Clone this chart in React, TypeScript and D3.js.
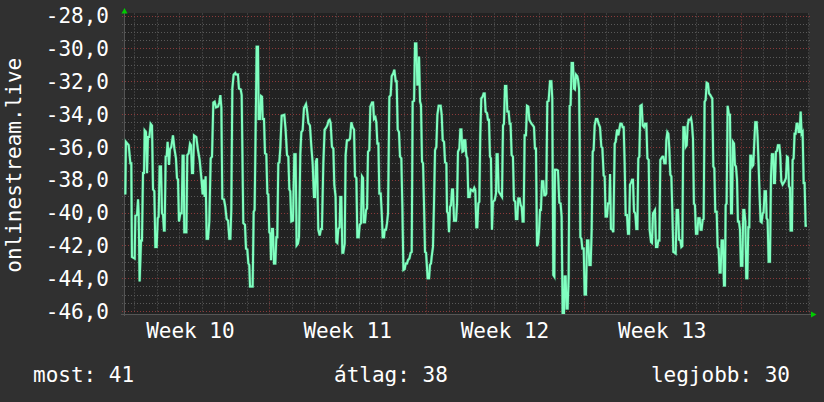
import React from "react";
import * as d3 from "d3";

const yTicks = [-28, -30, -32, -34, -36, -38, -40, -42, -44, -46];
const weekLabels = ["Week 10", "Week 11", "Week 12", "Week 13"];
const weekStarts = [154.9, 322.9, 490.9, 658.9]; // hours: week boundary after each label's week
const firstDayLine = 10.9;
const totalHours = 731.6;
const yAxisTitle = "onlinestream.live";
const legend = ["most: 41", "átlag: 38", "legjobb: 30"];

// [hour since start, value]
const samples: [number, number][] = [
  [1.4,-38.9],[2.1,-35.7],[5.0,-35.9],[6.8,-37.0],[7.8,-37.0],[8.5,-42.7],[11.4,-42.8],[12.1,-40.2],[13.9,-40.15],[15.0,-39.2],
  [15.7,-40.15],[16.7,-44.2],[18.2,-41.7],[19.2,-41.7],[20.3,-37.6],[21.4,-37.6],[22.1,-35.0],[23.5,-35.1],[24.6,-37.6],[25.6,-35.4],
  [27.1,-35.4],[28.5,-34.6],[29.9,-34.7],[31.0,-38.6],[32.4,-38.7],[33.5,-42.1],[34.9,-42.1],[36.0,-40.35],[37.0,-40.25],[38.1,-37.2],
  [39.5,-37.2],[40.6,-40.05],[41.7,-40.15],[42.7,-41.1],[43.4,-41.1],[44.5,-36.6],[45.6,-36.55],[46.6,-35.7],[48.1,-37.1],[49.1,-36.15],
  [50.5,-36.0],[52.3,-35.3],[53.8,-36.1],[55.5,-36.7],[56.6,-37.9],[57.7,-38.0],[58.7,-40.55],[60.2,-40.05],[61.6,-40.05],[62.6,-36.55],
  [63.7,-36.55],[64.4,-41.2],[66.6,-41.2],[67.6,-36.5],[69.1,-36.4],[70.5,-35.8],[71.6,-35.9],[72.6,-37.6],[73.7,-37.6],[74.8,-35.3],
  [77.2,-35.4],[79.0,-36.2],[80.8,-36.8],[82.6,-37.9],[84.0,-38.9],[85.1,-38.0],[86.2,-39.05],[87.2,-37.8],[88.3,-41.6],[89.7,-41.6],
  [91.1,-40.55],[92.6,-36.7],[94.0,-36.6],[95.4,-33.3],[96.8,-33.25],[98.3,-33.6],[100.4,-33.55],[101.8,-33.3],[102.9,-32.85],[104.0,-33.6],
  [105.0,-39.15],[106.8,-39.2],[108.2,-39.65],[109.6,-40.4],[111.1,-40.5],[112.5,-41.6],[113.6,-41.6],[114.6,-39.85],[115.7,-32.45],[117.1,-31.6],
  [118.9,-31.5],
  [119.6,-31.6],[121.7,-31.6],[122.8,-32.45],[124.6,-32.5],[125.7,-32.85],[127.4,-40.65],[129.2,-40.75],[130.3,-42.2],[131.7,-42.25],
  [132.8,-43.1],[133.8,-43.2],[134.6,-44.5],[137.4,-44.5],[138.5,-39.95],[139.5,-39.85],[141.7,-29.9],[143.1,-29.9],[143.8,-34.3],[145.2,-34.3],
  [146.3,-32.9],[147.4,-32.95],[148.1,-34.3],[149.5,-34.3],[150.6,-36.4],[152.0,-36.45],[153.1,-38.85],[154.1,-38.9],[155.2,-41.2],[156.3,-41.3],
  [157.0,-42.9],[158.0,-41.0],[159.1,-41.0],[160.2,-43.1],[161.6,-43.1],[162.7,-41.5],[163.7,-41.5],[164.8,-37.0],[165.9,-36.95],[166.9,-36.1],
  [168.4,-34.1],[171.2,-34.05],[172.6,-34.95],[174.1,-36.5],[175.5,-36.6],[176.6,-38.6],[177.6,-38.7],[178.7,-40.55],[180.5,-40.5],[181.9,-36.45],
  [183.3,-36.45],[184.4,-42.0],[185.8,-41.9],[186.9,-41.5],[188.3,-36.45],[189.4,-35.1],[190.8,-35.0],[192.2,-33.65],[194.4,-33.4],[195.4,-33.75],
  [196.9,-34.55],[198.6,-34.7],[200.1,-36.0],[201.5,-37.0],[202.9,-39.05],[204.0,-39.05],[205.0,-36.9],[206.1,-36.7],[207.5,-41.05],[209.0,-41.4],
  [210.4,-41.0],[211.4,-41.0],[212.9,-37.0],[214.3,-34.95],[215.7,-34.85],[217.1,-34.7],[218.6,-34.4],[219.6,-34.35],[220.7,-34.55],[222.1,-36.0],
  [223.6,-36.1],[224.6,-38.3],[226.0,-39.05],[226.8,-41.8],[227.8,-41.85],[228.9,-41.0],[230.3,-40.9],[231.0,-39.05],[232.1,-39.05],[233.2,-42.45],
  [234.2,-42.45],[235.7,-41.9],[236.7,-36.5],[238.1,-35.6],[239.9,-35.6],
  [241.4,-35.5],[242.8,-34.5],[244.2,-34.8],[245.7,-34.95],[246.7,-37.8],[248.2,-37.9],[249.2,-41.5],[250.7,-41.5],[251.7,-40.75],[253.1,-40.65],
  [254.2,-37.8],[255.3,-37.9],[256.0,-40.6],[257.4,-40.6],[258.5,-39.85],[259.6,-39.75],[260.6,-36.3],[262.0,-36.2],[263.1,-33.55],[264.9,-33.3],
  [266.0,-33.3],[267.0,-34.3],[268.5,-34.2],[269.5,-34.5],[270.6,-35.8],[271.7,-35.8],[272.7,-38.85],[274.2,-38.85],[275.2,-39.95],[276.3,-41.5],
  [277.7,-41.5],[278.4,-41.05],[279.8,-41.05],[280.9,-40.65],[282.0,-40.05],[283.4,-32.95],[284.8,-32.85],[285.9,-31.7],[287.7,-31.5],[288.7,-31.3],
  [290.2,-32.0],[291.2,-32.0],[292.3,-34.95],[293.7,-35.1],[294.8,-36.6],[296.2,-36.7],[297.3,-39.65],[298.4,-43.5],[299.8,-43.45],[300.9,-43.1],
  [302.3,-43.1],[303.3,-42.9],[304.8,-42.8],[306.2,-42.45],[307.3,-42.4],[308.3,-33.25],[309.8,-33.2],[310.8,-29.7],[312.2,-29.7],[313.3,-32.2],
  [314.4,-32.2],[315.1,-30.5],[316.2,-33.25],[317.2,-33.45],[318.3,-36.9],[319.4,-37.0],[320.4,-39.45],[321.5,-42.4],[322.6,-42.45],[323.3,-43.1],
  [324.3,-44.0],[325.8,-44.0],[326.8,-43.2],[327.9,-43.1],[328.6,-42.7],[330.0,-42.1],[331.1,-39.45],[332.2,-36.2],[333.6,-36.0],[334.7,-34.05],
  [336.1,-33.5],[338.2,-33.5],[339.3,-34.05],[340.4,-35.6],[341.8,-35.7],[342.9,-36.95],[344.3,-37.0],[345.0,-39.95],[346.1,-40.05],[347.1,-41.2],
  [348.2,-39.65],[349.3,-39.55],[350.3,-38.6],[351.4,-38.6],[352.5,-40.5],[354.6,-40.5],[355.7,-39.45],[356.7,-36.3],[358.2,-36.1],[359.2,-34.95],
  [360.3,-34.95],[361.4,-36.3],[362.8,-36.25],
  [363.1,-35.6],[364.5,-35.6],[365.6,-36.55],[366.7,-36.7],[367.7,-39.05],[369.2,-39.05],[370.2,-38.6],[371.6,-38.65],[372.7,-38.7],[374.1,-38.5],
  [375.2,-38.65],[376.3,-40.9],[377.3,-40.9],[378.4,-39.45],[379.5,-39.35],[380.5,-35.3],[381.6,-33.05],[383.0,-32.95],[384.1,-32.75],[385.2,-32.75],
  [386.2,-33.85],[387.7,-33.95],[388.7,-34.35],[389.8,-34.35],[390.9,-36.6],[391.9,-36.7],[393.0,-41.05],[394.1,-39.35],[395.9,-39.25],[397.3,-38.85],
  [398.0,-36.45],[399.1,-36.45],[400.1,-38.7],[401.5,-38.85],[402.6,-38.95],[403.7,-39.05],[404.8,-34.7],[405.8,-34.6],[406.9,-32.3],[408.3,-32.3],
  [409.4,-33.85],[410.8,-33.85],[411.9,-34.6],[412.9,-34.6],[414.0,-36.5],[415.4,-36.6],[416.5,-39.25],[417.9,-39.35],[418.6,-40.4],[420.1,-40.4],
  [421.1,-39.15],[422.6,-39.15],[423.6,-39.55],[424.7,-39.65],[425.8,-40.55],[426.8,-40.55],[427.9,-35.3],[429.3,-35.3],[430.4,-33.5],[431.8,-33.55],
  [432.9,-34.35],[434.3,-34.5],[435.4,-34.6],[436.8,-34.7],[437.9,-34.8],[438.9,-36.1],[440.0,-36.1],[441.1,-42.05],[442.1,-41.9],[443.2,-41.2],
  [444.3,-39.85],[445.3,-39.85],[446.4,-38.1],[447.8,-38.1],[448.9,-38.95],[450.0,-38.95],[451.0,-38.85],[452.1,-33.25],[453.5,-33.2],[455.0,-32.0],
  [456.4,-32.0],[457.4,-33.05],[458.5,-43.8],[459.6,-43.9],[460.3,-37.4],[462.1,-37.4],[463.5,-37.45],[464.9,-39.4],[466.3,-39.45],[467.4,-40.25],
  [468.5,-46.25],[469.9,-46.25],[470.6,-43.9],[471.7,-43.9],[472.7,-45.85],[473.8,-45.85],[474.9,-43.9],[476.0,-33.5],[477.0,-33.45],[478.1,-30.9],
  [479.5,-30.9],[480.6,-32.45],[481.6,-32.5],[482.7,-31.6],[484.1,-31.7],
  [484.9,-31.9],[486.0,-32.45],[486.7,-35.6],[487.4,-41.5],[488.5,-41.6],[489.5,-42.2],[491.0,-42.2],[492.0,-45.0],[493.4,-45.0],[494.5,-41.7],
  [495.9,-41.7],[497.0,-43.2],[498.4,-43.2],[499.5,-41.05],[500.6,-36.3],[501.6,-36.2],[502.7,-34.7],[504.1,-34.3],[505.5,-34.3],[507.0,-34.6],
  [508.4,-34.8],[509.8,-36.0],[510.9,-36.05],[512.3,-37.75],[513.4,-37.8],[514.4,-40.25],[515.9,-40.25],[516.9,-39.45],[518.4,-39.45],[519.1,-37.65],
  [520.1,-41.0],[521.6,-41.05],[522.6,-41.2],[524.1,-35.8],[525.1,-35.7],[526.6,-34.95],[528.0,-35.3],[529.0,-34.95],[530.1,-34.6],[531.5,-34.6],
  [532.6,-34.8],[533.7,-34.8],[534.7,-37.0],[535.8,-40.15],[537.2,-40.15],[538.3,-41.3],[539.4,-41.3],[540.4,-38.3],[541.5,-38.2],[542.6,-38.0],
  [543.6,-38.0],[544.7,-39.95],[546.1,-40.05],[547.2,-41.0],[548.3,-41.0],[549.3,-36.7],[550.4,-36.6],[551.5,-33.5],[552.9,-33.45],[554.0,-34.7],
  [555.4,-34.8],[556.5,-34.6],[557.9,-34.6],[559.0,-36.7],[560.4,-36.8],[561.4,-41.05],[562.9,-41.8],[563.9,-41.85],[565.0,-40.05],[566.1,-39.95],
  [567.1,-39.85],[568.2,-42.1],[569.6,-42.1],[570.7,-41.7],[571.8,-41.7],[572.8,-36.8],[573.9,-36.7],[575.0,-36.6],[576.0,-36.6],[577.1,-37.0],
  [578.5,-37.0],[579.2,-35.6],[580.3,-35.1],[581.4,-35.2],[582.4,-36.1],[583.5,-37.7],[584.6,-37.8],[585.6,-39.85],[586.7,-42.4],[588.1,-42.45],
  [589.2,-42.5],[590.3,-39.85],[591.7,-39.85],[592.8,-41.65],[594.2,-41.7],[595.3,-42.1],[596.3,-42.05],[597.4,-34.8],[598.8,-34.8],[599.9,-36.0],
  [601.0,-35.9],[602.0,-34.7],[603.1,-34.35],[604.5,-34.35],[605.6,-34.25],
  [606.6,-34.6],[607.7,-35.5],[608.7,-39.45],[609.8,-39.55],[610.9,-41.3],[612.3,-41.3],[613.4,-40.35],[614.8,-40.35],[615.9,-41.05],[616.9,-41.05],
  [618.0,-40.45],[619.1,-40.4],[620.1,-33.25],[621.2,-33.15],[622.3,-32.1],[623.7,-32.15],[624.8,-32.75],[626.2,-32.85],[627.2,-32.95],[628.3,-33.05],
  [629.4,-37.2],[630.5,-37.3],[631.5,-39.95],[633.0,-39.95],[634.0,-42.1],[635.1,-42.2],[636.1,-43.65],[637.2,-43.65],[638.3,-41.7],[639.7,-41.7],
  [640.8,-44.45],[641.8,-44.45],[642.6,-39.55],[643.6,-39.45],[644.7,-33.5],[646.1,-34.05],[647.2,-34.05],[648.3,-40.05],[649.3,-40.05],[650.4,-35.7],
  [651.5,-35.8],[652.5,-37.1],[653.6,-37.2],[654.7,-38.0],[655.7,-40.55],[656.8,-40.55],[657.9,-41.05],[658.9,-43.25],[660.4,-43.25],[661.4,-39.85],
  [662.5,-39.85],[663.6,-40.55],[664.6,-44.0],[665.7,-44.0],[666.8,-40.9],[667.8,-40.9],[668.9,-36.55],[670.0,-36.55],[671.0,-37.2],[672.1,-37.1],
  [673.2,-35.7],[674.2,-34.5],[675.7,-34.5],[676.7,-35.4],[677.8,-37.1],[678.9,-39.05],[679.9,-40.55],[681.0,-40.6],[682.1,-40.05],[683.1,-40.0],
  [684.2,-38.7],[685.6,-38.7],[686.3,-40.35],[687.4,-40.45],[688.5,-43.0],[689.9,-43.0],[691.0,-37.8],[692.0,-36.45],[693.5,-36.45],[694.2,-38.2],
  [695.2,-38.2],[696.3,-36.3],[697.4,-36.25],[698.4,-35.9],[699.9,-35.9],[700.9,-36.5],[702.0,-38.1],[703.4,-38.3],[704.5,-38.2],[705.6,-38.1],
  [707.0,-37.9],[708.1,-36.6],[709.1,-36.65],[710.2,-38.4],[711.3,-38.5],[712.0,-41.1],[713.4,-41.1],[714.1,-36.8],[715.2,-36.7],[716.2,-35.2],
  [717.3,-35.2],[718.4,-34.6],[719.5,-34.6],[720.5,-35.1],[721.6,-35.1],[722.7,-33.85],[723.7,-35.2],[724.8,-35.1],[725.9,-38.2],[726.9,-38.2],
  [728.0,-40.8],[729.4,-40.8],
];

const W = 824;
const H = 402;
const plot = { left: 124, right: 809, top: 15.5, bottom: 311 };

export default function App() {
  const x = d3.scaleLinear().domain([0, totalHours]).range([plot.left, plot.right]);
  const y = d3.scaleLinear().domain([-28, -46]).range([plot.top, plot.bottom]);

  const minorY = d3.range(-46, -27.9, 0.5).filter((v) => Math.abs(v % 2) > 0.01);
  const dayLines = d3.range(firstDayLine, totalHours, 24);
  const weekSet = new Set(weekStarts.map((w) => w.toFixed(1)));
  const minorX = dayLines.filter((d) => !weekSet.has(d.toFixed(1)));

  const line = d3
    .line<[number, number]>()
    .x((d) => x(d[0]))
    .y((d) => y(Math.max(-46.3, d[1])));

  const font = "'DejaVu Sans Mono', monospace";
  const minorColor = "#595959";
  const majorColor = "#8a3a3a";

  return (
    <svg width={W} height={H} style={{ position: "absolute", left: 0, top: 0, display: "block" }}>
      <rect x={0} y={0} width={W} height={H} fill="#303030" />
      <rect x={plot.left} y={13} width={plot.right - plot.left} height={303 - 2} fill="#222222" />
      <defs>
        <clipPath id="clip">
          <rect x={plot.left} y={10} width={plot.right - plot.left} height={plot.bottom - 10 + 3} />
        </clipPath>
      </defs>
      {/* minor grid */}
      {minorY.map((v) => (
        <line key={"my" + v} x1={plot.left - 2} x2={plot.right + 2} y1={Math.round(y(v)) + 0.5} y2={Math.round(y(v)) + 0.5}
          stroke={minorColor} strokeDasharray="1,2" />
      ))}
      {minorX.map((d) => (
        <line key={"mx" + d} x1={Math.round(x(d)) + 0.5} x2={Math.round(x(d)) + 0.5} y1={plot.top - 2} y2={plot.bottom + 2}
          stroke={minorColor} strokeDasharray="1,2" />
      ))}
      {/* major grid */}
      {yTicks.map((v) => (
        <line key={"My" + v} x1={plot.left - 2} x2={plot.right + 2} y1={Math.round(y(v)) + 0.5} y2={Math.round(y(v)) + 0.5}
          stroke={majorColor} strokeDasharray="1,2" />
      ))}
      {weekStarts.map((d) => (
        <line key={"Mx" + d} x1={Math.round(x(d)) + 0.5} x2={Math.round(x(d)) + 0.5} y1={plot.top - 2} y2={plot.bottom + 5}
          stroke={majorColor} strokeDasharray="1,2" />
      ))}
      {/* axes */}
      <line x1={plot.left - 3} x2={plot.right + 3} y1={314.5} y2={314.5} stroke="#555555" />
      <line x1={plot.left + 0.5} x2={plot.left + 0.5} y1={10} y2={316} stroke="#555555" />
      <path d={`M${plot.left - 2.5},${13.5} L${plot.left + 3.5},${13.5} L${plot.left + 0.5},${8} Z`} fill="#00cc00" />
      <path d={`M${plot.right + 2},${311.5} L${plot.right + 2},${317.5} L${plot.right + 7.5},${314.5} Z`} fill="#00cc00" />
      {/* data line */}
      <path d={line(samples) || ""} fill="none" stroke="#3f9a6e" strokeWidth={3} strokeLinejoin="miter" clipPath="url(#clip)" opacity={0.6} />
      <path d={line(samples) || ""} fill="none" stroke="#80ffc0" strokeWidth={2} strokeLinejoin="miter" clipPath="url(#clip)" />
      {/* y tick labels */}
      {yTicks.map((v) => (
        <text key={"t" + v} x={109} y={y(v) + 7.7} textAnchor="end" fill="#ffffff" fontFamily={font} fontSize={21}>
          {d3.format(".1f")(v).replace(".", ",").replace("−", "-")}
        </text>
      ))}
      {/* week labels */}
      {weekLabels.map((lab, i) => (
        <text key={lab} x={x(weekStarts[i] - 84)} y={338} textAnchor="middle" fill="#ffffff" fontFamily={font} fontSize={21}>
          {lab}
        </text>
      ))}
      {/* y axis title */}
      <text transform={`translate(21,${(plot.top + plot.bottom) / 2 + 2}) rotate(-90)`} textAnchor="middle" fill="#ffffff"
        fontFamily={font} fontSize={21}>
        {yAxisTitle}
      </text>
      {/* legend */}
      <text x={33} y={382} fill="#ffffff" fontFamily={font} fontSize={21}>{legend[0]}</text>
      <text x={334} y={382} fill="#ffffff" fontFamily={font} fontSize={21}>{legend[1]}</text>
      <text x={790} y={382} textAnchor="end" fill="#ffffff" fontFamily={font} fontSize={21}>{legend[2]}</text>
    </svg>
  );
}
